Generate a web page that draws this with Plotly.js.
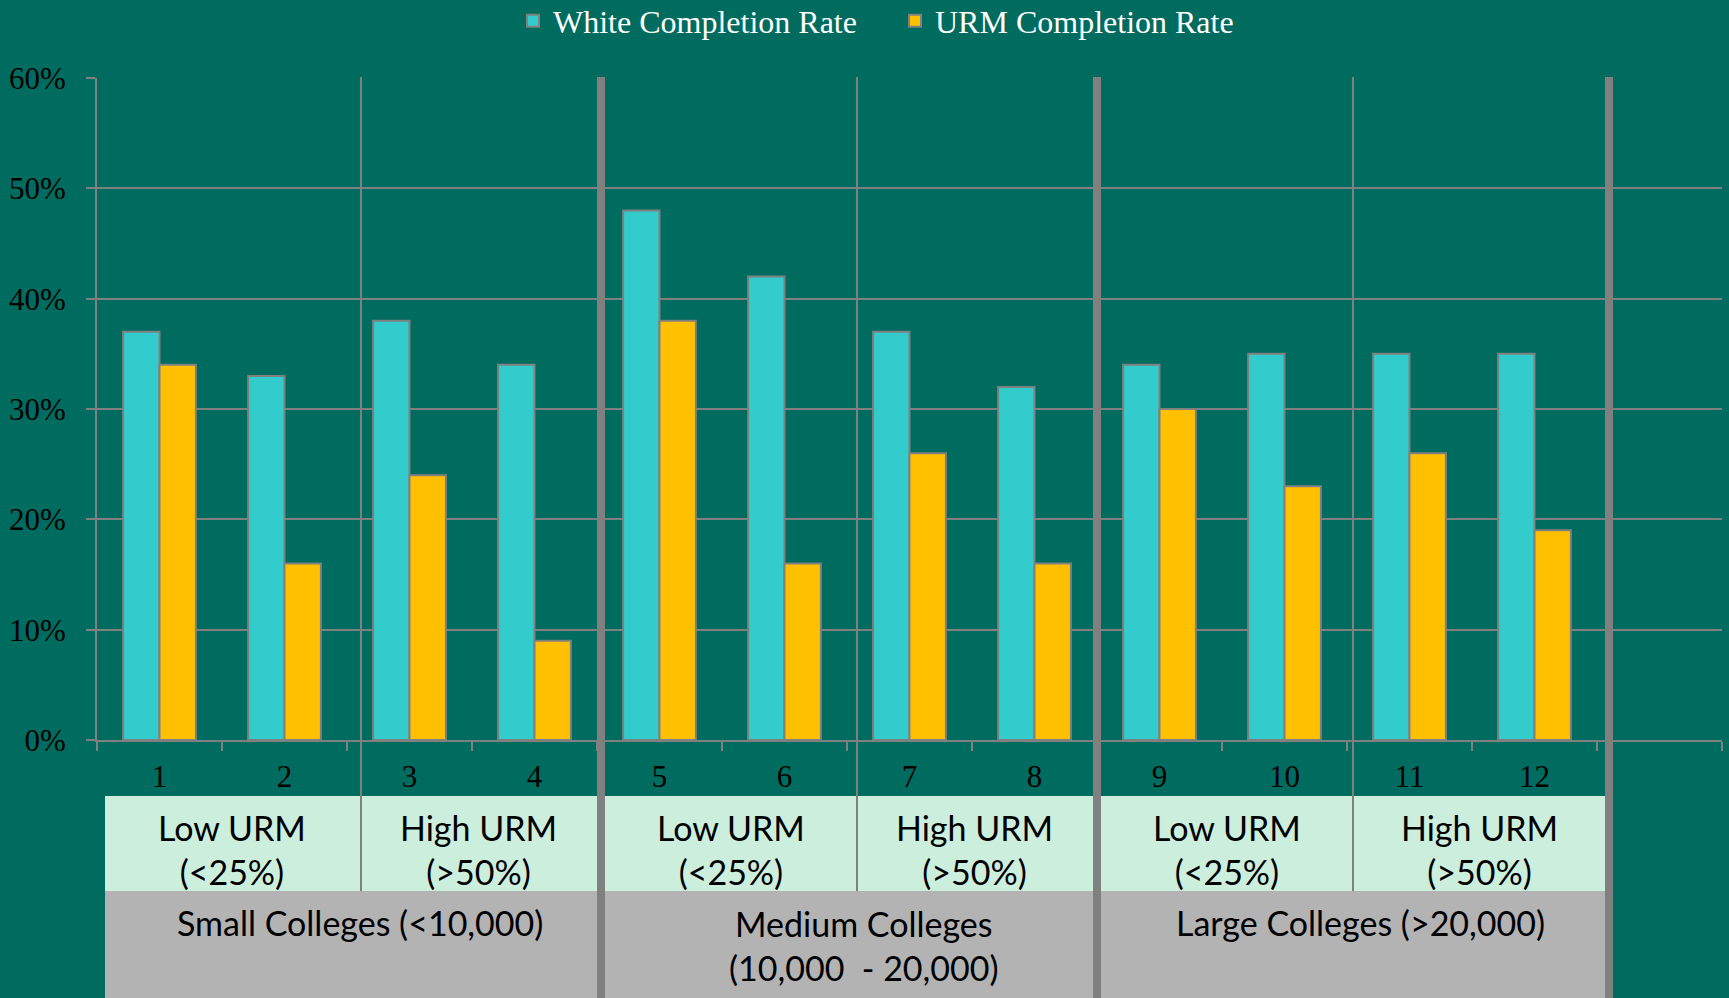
<!DOCTYPE html>
<html>
<head>
<meta charset="utf-8">
<script src="https://cdn.plot.ly/plotly-3.0.1.min.js"></script>
<style>html,body{margin:0;padding:0;background:#006B5F;}#chart{width:1729px;height:998px;}</style>
</head>
<body>
<div id="chart"></div>
<script>
// ---- data ----
const colleges = [1, 2, 3, 4, 5, 6, 7, 8, 9, 10, 11, 12];
const collegeLabels = ['1','2','3','4','5','6','7','8','9','10','11','12'];
const whiteRate = [37, 33, 38, 34, 48, 42, 37, 32, 34, 35, 35, 35];
const urmRate   = [34, 16, 24, 9, 38, 16, 26, 16, 30, 23, 26, 19];
const urmGroups = ['Low URM<br>(&lt;25%)', 'High URM<br>(&gt;50%)',
                   'Low URM<br>(&lt;25%)', 'High URM<br>(&gt;50%)',
                   'Low URM<br>(&lt;25%)', 'High URM<br>(&gt;50%)'];
const sizeGroups = ['Small Colleges (&lt;10,000)', 'Medium Colleges<br>(10,000  - 20,000)', 'Large Colleges (&gt;20,000)'];
const yTicks = [0, 10, 20, 30, 40, 50, 60];
const yTickLabels = ['0%', '10%', '20%', '30%', '40%', '50%', '60%'];

// ---- layout helpers (pixel -> paper) ----
const L = 97, R = 1722, T = 78, B = 740;
const px = x => (x - L) / (R - L);
const py = y => (B - y) / (B - T);
const GRAY = '#808080';
const BG = '#006B5F';

const serif = 'Liberation Serif, Times New Roman, serif';
const sans = 'Lato, Carlito, Calibri, sans-serif';

const traces = [
  {type: 'bar', name: 'White Completion Rate', x: colleges, y: whiteRate,
   marker: {color: '#33CCCC', line: {color: GRAY, width: 2}}, hoverinfo: 'skip'},
  {type: 'bar', name: 'URM Completion Rate', x: colleges, y: urmRate,
   marker: {color: '#FFC000', line: {color: GRAY, width: 2}}, hoverinfo: 'skip'}
];

const shapes = [];
// table backgrounds
shapes.push({type: 'rect', xref: 'paper', yref: 'paper', x0: px(105), x1: px(1605), y0: py(891), y1: py(796),
  fillcolor: '#CCEEDD', line: {width: 0}, layer: 'above'});
shapes.push({type: 'rect', xref: 'paper', yref: 'paper', x0: px(105), x1: px(1605), y0: py(998), y1: py(891),
  fillcolor: '#B3B3B3', line: {width: 0}, layer: 'above'});
// thin separators
[361, 857, 1353].forEach(x => shapes.push({type: 'line', xref: 'paper', yref: 'paper',
  x0: px(x), x1: px(x), y0: py(891), y1: py(77), line: {color: GRAY, width: 2}, layer: 'above'}));
// thick separators
[601, 1097, 1609].forEach(x => shapes.push({type: 'line', xref: 'paper', yref: 'paper',
  x0: px(x), x1: px(x), y0: py(998), y1: py(77), line: {color: GRAY, width: 8}, layer: 'above'}));

const annotations = [];
const row1X = [232, 478, 731, 975, 1227, 1479];
urmGroups.forEach((t, i) => annotations.push({xref: 'paper', yref: 'paper', x: px(row1X[i]), y: py(849),
  text: t, showarrow: false, xanchor: 'center', yanchor: 'middle', font: {family: sans, size: 34, color: '#000'}}));
const row2X = [360, 864, 1360];
const row2Y = [922, 945, 922];
sizeGroups.forEach((t, i) => annotations.push({xref: 'paper', yref: 'paper', x: px(row2X[i]), y: py(row2Y[i]),
  text: t, showarrow: false, xanchor: 'center', yanchor: 'middle', font: {family: sans, size: 34, color: '#000'}}));

const layout = {
  width: 1729, height: 998,
  margin: {l: L, r: 1729 - R, t: T, b: 998 - B, pad: 0, autoexpand: false},
  paper_bgcolor: BG, plot_bgcolor: BG,
  barmode: 'group', bargap: 0.418, bargroupgap: 0,
  showlegend: true,
  legend: {orientation: 'h', x: px(513), xanchor: 'left', y: py(21), yanchor: 'middle',
    entrywidth: 337, entrywidthmode: 'pixels',
    font: {family: serif, size: 32, color: '#FFFFFF'}, bgcolor: 'rgba(0,0,0,0)', traceorder: 'normal'},
  xaxis: {
    type: 'linear', range: [0.5, 13.5], tickmode: 'array', tickvals: colleges, ticktext: collegeLabels,
    ticks: '', showgrid: false, zeroline: false, showline: true, linecolor: GRAY, linewidth: 2,
    tickfont: {family: serif, size: 31, color: '#000'}, ticklabelstandoff: 8,
    minor: {tick0: 0.5, dtick: 1, ticks: 'outside', ticklen: 9, tickwidth: 2, tickcolor: GRAY, showgrid: false},
    fixedrange: true
  },
  yaxis: {
    range: [0, 60], tickmode: 'array', tickvals: yTicks, ticktext: yTickLabels,
    ticks: 'outside', ticklen: 9, tickwidth: 2, tickcolor: GRAY,
    showgrid: true, gridcolor: GRAY, gridwidth: 2, zeroline: false,
    showline: true, linecolor: GRAY, linewidth: 2,
    tickfont: {family: serif, size: 31, color: '#000'}, ticklabelstandoff: 14,
    fixedrange: true
  },
  shapes: shapes,
  annotations: annotations,
  hovermode: false
};

Plotly.newPlot('chart', traces, layout, {displayModeBar: false, staticPlot: true});
</script>
</body>
</html>
